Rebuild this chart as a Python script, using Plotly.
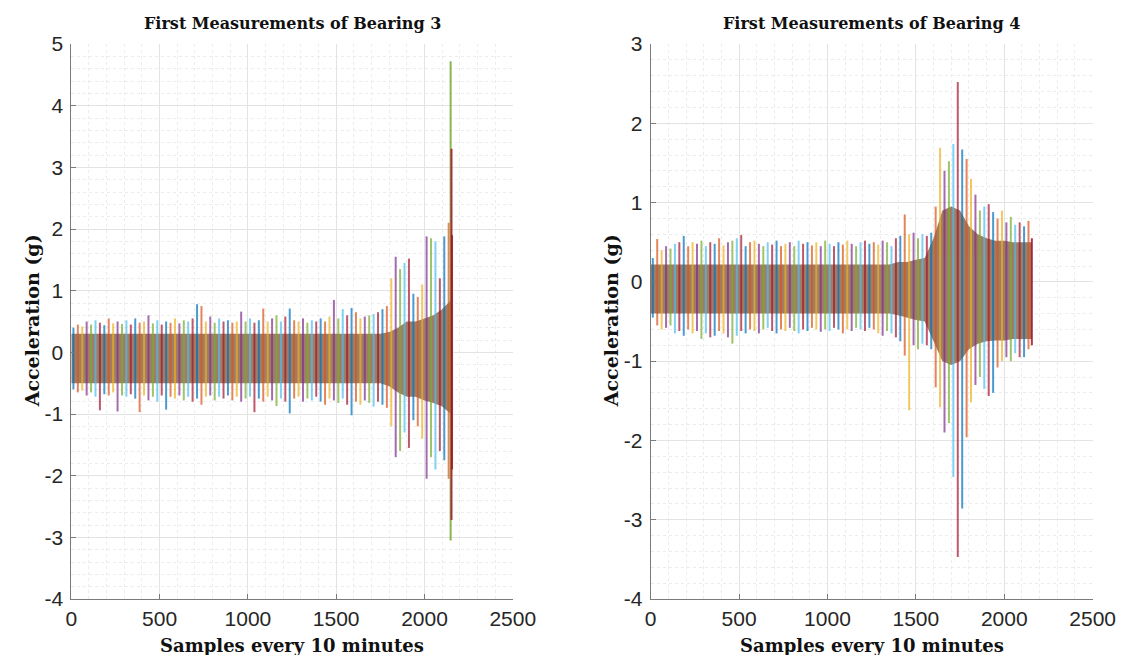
import plotly.graph_objects as go

# ---------------- data ----------------
bin_x = list(range(12, 2156, 25))  # 86 bins of 25 samples

b3_hi = [0.40, 0.45, 0.42, 0.50, 0.45, 0.52, 0.48, 0.44, 0.55, 0.47,
         0.50, 0.46, 0.52, 0.45, 0.55, 0.48, 0.50, 0.60, 0.47, 0.52,
         0.45, 0.50, 0.48, 0.55, 0.47, 0.52, 0.50, 0.55, 0.78, 0.75,
         0.50, 0.58, 0.48, 0.55, 0.50, 0.52, 0.48, 0.50, 0.66, 0.50,
         0.55, 0.48, 0.52, 0.71, 0.50, 0.55, 0.60, 0.50, 0.58, 0.71,
         0.52, 0.50, 0.55, 0.48, 0.52, 0.50, 0.55, 0.50, 0.58, 0.85,
         0.55, 0.70, 0.60, 0.72, 0.65, 0.55, 0.58, 0.60, 0.62, 0.65,
         0.70, 0.75, 1.20, 1.55, 1.35, 1.45, 1.52, 0.95, 0.90, 1.10,
         1.88, 1.85, 1.80, 1.20, 1.88, 2.10]
b3_lo = [-0.60, -0.65, -0.62, -0.70, -0.65, -0.72, -0.94, -0.68, -0.70, -0.65,
         -0.96, -0.70, -0.72, -0.68, -0.75, -0.97, -0.70, -0.78, -0.72, -0.80,
         -0.70, -0.93, -0.72, -0.75, -0.70, -0.78, -0.72, -0.80, -0.75, -0.85,
         -0.72, -0.70, -0.78, -0.72, -0.75, -0.70, -0.78, -0.72, -0.80, -0.75,
         -0.72, -0.97, -0.75, -0.80, -0.72, -0.78, -0.87, -0.75, -0.80, -0.99,
         -0.75, -0.72, -0.80, -0.75, -0.78, -0.72, -0.80, -0.85, -0.75, -0.78,
         -0.82, -0.75, -0.85, -1.02, -0.80, -0.85, -0.78, -0.82, -0.88, -0.80,
         -0.85, -0.90, -1.20, -1.70, -1.60, -1.30, -1.55, -1.10, -1.20, -1.40,
         -2.05, -1.70, -1.90, -1.60, -1.75, -2.05]

b4_hi = [0.30, 0.54, 0.40, 0.45, 0.42, 0.48, 0.50, 0.58, 0.45, 0.50,
         0.48, 0.52, 0.45, 0.50, 0.48, 0.55, 0.46, 0.50, 0.52, 0.55,
         0.59, 0.45, 0.50, 0.52, 0.48, 0.45, 0.50, 0.47, 0.52, 0.45,
         0.48, 0.50, 0.45, 0.52, 0.48, 0.50, 0.46, 0.50, 0.45, 0.52,
         0.48, 0.45, 0.50, 0.47, 0.52, 0.48, 0.45, 0.50, 0.52, 0.48,
         0.50, 0.47, 0.52, 0.50, 0.45, 0.55, 0.58, 0.85, 0.60, 0.62,
         0.55, 0.60, 0.58, 0.62, 0.95, 1.69, 1.40, 1.52, 1.74, 2.52,
         1.67, 1.55, 1.30, 1.10, 0.90, 0.95, 0.98, 0.88, 0.80, 0.90,
         0.75, 0.82, 0.72, 0.75, 0.70, 0.77]
b4_lo = [-0.45, -0.55, -0.60, -0.58, -0.55, -0.65, -0.62, -0.68, -0.60, -0.65,
         -0.62, -0.72, -0.65, -0.70, -0.68, -0.62, -0.65, -0.70, -0.78, -0.68,
         -0.62, -0.65, -0.60, -0.62, -0.65, -0.60, -0.58, -0.62, -0.65, -0.60,
         -0.62, -0.58, -0.62, -0.65, -0.60, -0.62, -0.58, -0.60, -0.63, -0.60,
         -0.62, -0.58, -0.60, -0.65, -0.60, -0.62, -0.58, -0.60, -0.62, -0.58,
         -0.60, -0.65, -0.68, -0.62, -0.65, -0.70, -0.75, -0.93, -1.62, -0.80,
         -0.85, -0.78, -0.80, -0.85, -1.33, -1.58, -1.90, -1.78, -2.46, -3.47,
         -2.86, -1.96, -1.52, -1.30, -1.20, -1.35, -1.44, -1.40, -1.08, -1.00,
         -0.95, -1.00, -0.90, -0.95, -0.95, -0.85]

core_x = list(range(0, 2151, 50)) + [2156]
b3_core_hi = [0.30] * 36 + [0.33, 0.40, 0.50, 0.50, 0.55, 0.60, 0.70, 0.85, 1.60]
b3_core_lo = [-0.50] * 36 + [-0.55, -0.65, -0.72, -0.72, -0.78, -0.82, -0.88, -1.00, -1.80]
b4_core_hi = [0.22] * 28 + [0.25, 0.25, 0.28, 0.30, 0.55, 0.90, 0.95, 0.90,
                            0.70, 0.60, 0.55, 0.52, 0.52, 0.50, 0.50, 0.50, 0.50]
b4_core_lo = [-0.40] * 28 + [-0.42, -0.45, -0.48, -0.50, -0.75, -1.00, -1.05, -1.00,
                             -0.85, -0.78, -0.75, -0.74, -0.74, -0.72, -0.72, -0.72, -0.72]

# extra extreme strokes at the end of each record: x, low, high
b3_peak_x = [2148, 2153, 2156]
b3_peak_lo = [-3.05, -2.72, -1.90]
b3_peak_hi = [4.72, 3.30, 1.90]
b4_peak_x = [2156]
b4_peak_lo = [-0.80]
b4_peak_hi = [0.55]

titles = ["First Measurements of Bearing 3", "First Measurements of Bearing 4"]
xlabel = "Samples every 10 minutes"
ylabel = "Acceleration (g)"
x_ticks = [0, 500, 1000, 1500, 2000, 2500]
x_ticktext = ["0", "500", "1000", "1500", "2000", "2500"]
y1_ticks = [-4, -3, -2, -1, 0, 1, 2, 3, 4, 5]
y1_ticktext = ["-4", "-3", "-2", "-1", "0", "1", "2", "3", "4", "5"]
y2_ticks = [-4, -3, -2, -1, 0, 1, 2, 3]
y2_ticktext = ["-4", "-3", "-2", "-1", "0", "1", "2", "3"]

# ---------------- styling ----------------
colors = ["#0072BD", "#D95319", "#EDB120", "#7E2F8E", "#77AC30", "#4DBEEE", "#A2142F"]
peak_colors = ["#77AC30", "#A2142F", "#A2142F"]
core_color = "rgb(160,126,102)"
W, H = 1141, 655
ML, MR, MT, MB = 0, 0, 44, 56

fig = go.Figure()


def add_panel(ax, hi, lo, chi, clo, px, plo, phi, pcols):
    xa = "x" if ax == 1 else "x%d" % ax
    ya = "y" if ax == 1 else "y%d" % ax
    fig.add_trace(go.Scatter(
        x=core_x + core_x[::-1], y=chi + clo[::-1], fill="toself",
        fillcolor=core_color, line=dict(width=0), mode="lines",
        hoverinfo="skip", showlegend=False, xaxis=xa, yaxis=ya))
    for c, col in enumerate(colors):
        xs, ys = [], []
        for i, bx in enumerate(bin_x):
            if i % len(colors) == c:
                xs += [bx, bx, None]
                ys += [lo[i], hi[i], None]
        fig.add_trace(go.Scatter(
            x=xs, y=ys, mode="lines", line=dict(color=col, width=2.0),
            opacity=0.7, hoverinfo="skip", showlegend=False,
            xaxis=xa, yaxis=ya))
    for j in range(len(px)):
        fig.add_trace(go.Scatter(
            x=[px[j], px[j]], y=[plo[j], phi[j]], mode="lines",
            line=dict(color=pcols[j], width=2), opacity=0.85,
            hoverinfo="skip", showlegend=False, xaxis=xa, yaxis=ya))


add_panel(1, b3_hi, b3_lo, b3_core_hi, b3_core_lo, b3_peak_x, b3_peak_lo, b3_peak_hi, peak_colors)
add_panel(2, b4_hi, b4_lo, b4_core_hi, b4_core_lo, b4_peak_x, b4_peak_lo, b4_peak_hi, ["#A2142F"])

tickfont = dict(family="Liberation Sans, Arial, sans-serif", size=21, color="#262626")
axis_common = dict(
    showline=True, linecolor="#7a7a7a", linewidth=1, mirror=False,
    ticks="inside", ticklen=5, tickcolor="#7a7a7a", tickfont=tickfont,
    showgrid=True, gridcolor="#e3e3e3", gridwidth=1, zeroline=False,
    tickmode="array",
    minor=dict(showgrid=True, gridcolor="#ececec", griddash="dot", gridwidth=1),
)

x1dom = [67 / W, 520 / W]
x2dom = [661.5 / W, 1115 / W]
fig.update_layout(
    width=W, height=H, margin=dict(l=ML, r=MR, t=MT, b=MB),
    paper_bgcolor="white", plot_bgcolor="white", showlegend=False,
    xaxis=dict(domain=x1dom, range=[0, 2500], tickvals=x_ticks, ticktext=x_ticktext,
               anchor="y", ticklabelstandoff=1, **axis_common),
    yaxis=dict(domain=[0, 1], range=[-4, 5], tickvals=y1_ticks, ticktext=y1_ticktext,
               anchor="x", ticklabelstandoff=3, **axis_common),
    xaxis2=dict(domain=x2dom, range=[0, 2500], tickvals=x_ticks, ticktext=x_ticktext,
                anchor="y2", ticklabelstandoff=1, **axis_common),
    yaxis2=dict(domain=[0, 1], range=[-4, 3], tickvals=y2_ticks, ticktext=y2_ticktext,
                anchor="x2", ticklabelstandoff=3, **axis_common),
)
fig.update_xaxes(minor=dict(tick0=0, dtick=100))
fig.update_yaxes(minor=dict(tick0=0, dtick=0.2))

serif = "DejaVu Serif, Liberation Serif, serif"
plot_h = H - MT - MB
def py(pix):
    return (H - MB - pix) / plot_h

ann = []
for k, dom in enumerate([x1dom, x2dom]):
    cx = (dom[0] + dom[1]) / 2
    ann.append(dict(text="<b>%s</b>" % titles[k], x=cx, y=py(24), xref="paper", yref="paper",
                    showarrow=False, xanchor="center", yanchor="middle",
                    font=dict(family=serif, size=16, color="#111111")))
    ann.append(dict(text="<b>%s</b>" % xlabel, x=cx, y=py(645), xref="paper", yref="paper",
                    showarrow=False, xanchor="center", yanchor="middle",
                    font=dict(family=serif, size=18, color="#111111")))
ann.append(dict(text="<b>%s</b>" % ylabel, x=27 / W, y=py(321), xref="paper", yref="paper",
                showarrow=False, xanchor="center", yanchor="middle", textangle=-90,
                font=dict(family=serif, size=19, color="#111111")))
ann.append(dict(text="<b>%s</b>" % ylabel, x=621 / W, y=py(321), xref="paper", yref="paper",
                showarrow=False, xanchor="center", yanchor="middle", textangle=-90,
                font=dict(family=serif, size=19, color="#111111")))
fig.update_layout(annotations=ann)

fig.write_html("out.html")
